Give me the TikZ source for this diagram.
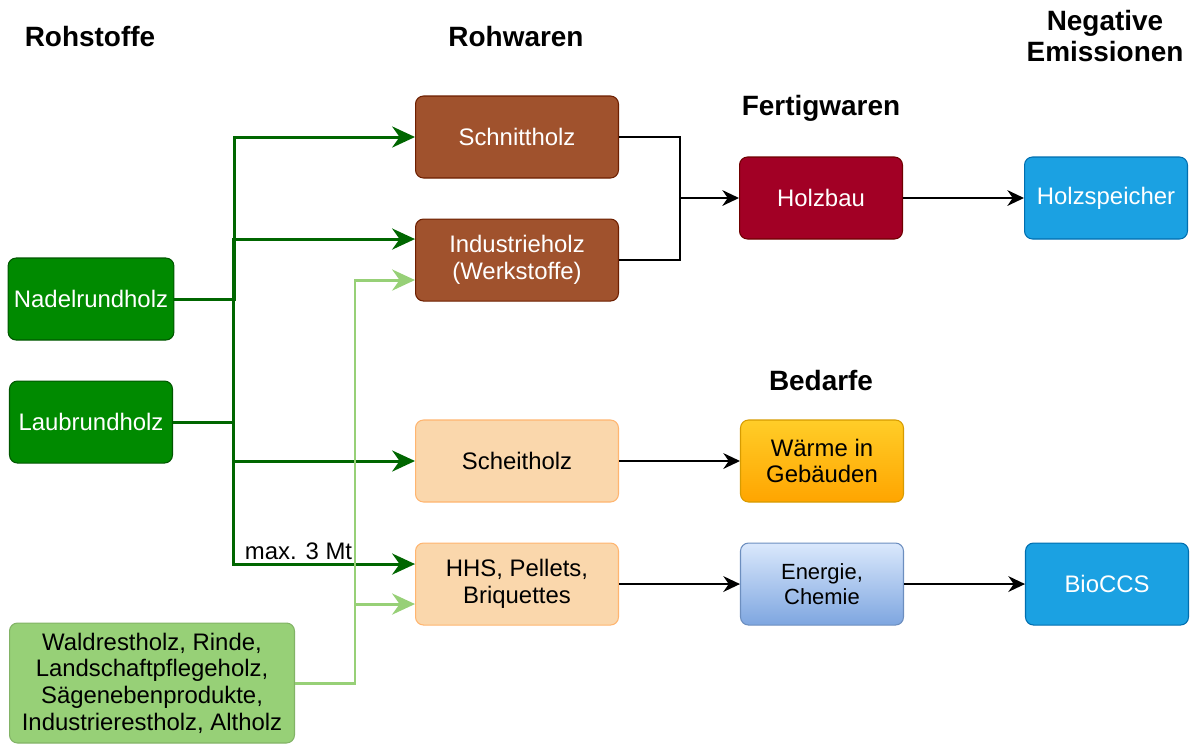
\documentclass[tikz,border=0pt]{standalone}
\usepackage{fontspec}
\setmainfont{Liberation Sans}
\usepackage{xcolor}
\usetikzlibrary{arrows.meta,positioning}

\definecolor{rundFill}{HTML}{008A00}
\definecolor{rundLine}{HTML}{005700}
\definecolor{restFill}{HTML}{97D077}
\definecolor{restLine}{HTML}{82B366}
\definecolor{wareFill}{HTML}{A0522D}
\definecolor{wareLine}{HTML}{6D1F00}
\definecolor{brennFill}{HTML}{FAD7AC}
\definecolor{brennLine}{HTML}{FFB570}
\definecolor{bauFill}{HTML}{A20025}
\definecolor{bauLine}{HTML}{6F0000}
\definecolor{speicherFill}{HTML}{1BA1E2}
\definecolor{speicherLine}{HTML}{006EAF}
\definecolor{waermeTop}{HTML}{FFCD28}
\definecolor{waermeBot}{HTML}{FFA500}
\definecolor{waermeLine}{HTML}{D79B00}
\definecolor{energieTop}{HTML}{DAE8FC}
\definecolor{energieBot}{HTML}{7EA6E0}
\definecolor{energieLine}{HTML}{6C8EBF}
\definecolor{flowDark}{HTML}{006600}

\begin{document}
\begin{tikzpicture}[x=0.02cm,y=-0.02cm,
    box/.style={draw,rounded corners=0.16cm,align=center,minimum width=3.26cm,minimum height=1.64cm,
      line width=0.6pt,font=\fontsize{13.6}{15.2}\selectfont},
    rund/.style={box,fill=rundFill,draw=rundLine,text=white},
    rest/.style={box,fill=restFill,draw=restLine,minimum width=5.7cm,minimum height=2.4cm},
    ware/.style={box,fill=wareFill,draw=wareLine,text=white,minimum width=4.06cm},
    brenn/.style={box,fill=brennFill,draw=brennLine,minimum width=4.06cm},
    header/.style={align=center,font=\bfseries\fontsize{15.9}{18}\selectfont},
    dkflow/.style={draw=flowDark,line width=1.7pt,-{Stealth[length=13pt,width=12pt]}},
    ltflow/.style={draw=restFill,line width=1.7pt,-{Stealth[length=13pt,width=12pt]}},
    flow/.style={draw=black,line width=0.85pt},
    >={Stealth[length=9.5pt,width=9pt]}
  ]
    \useasboundingbox (0,0) rectangle (1192,745);

    % Rohstoffe
    \node[rund] (nadel) at (91,299) {Nadelrundholz};
    \node[rund,below=0.8cm of nadel] (laub) {Laubrundholz};
    \node[rest] (wald) at (152,683) {Waldrestholz, Rinde,\\Landschaftpflegeholz,\\Sägenebenprodukte,\\Industrierestholz, Altholz};

    % Rohwaren
    \node[ware] (schnitt) at (517,137) {Schnittholz};
    \node[ware,below=0.8cm of schnitt] (indus) {Industrieholz\\(Werkstoffe)};
    \node[brenn] (scheit) at (517,461) {Scheitholz};
    \node[brenn,below=0.8cm of scheit] (hhs) {HHS, Pellets,\\Briquettes};

    % Fertigwaren / Bedarfe
    \node[box,fill=bauFill,draw=bauLine,text=white] (holzbau) at (821,198) {Holzbau};
    \node[box,top color=waermeTop,bottom color=waermeBot,draw=waermeLine,right=2.42cm of scheit] (waerme) {Wärme in\\Gebäuden};
    \node[box,top color=energieTop,bottom color=energieBot,draw=energieLine,
      font=\fontsize{12.5}{14}\selectfont,right=2.42cm of hhs] (energie) {Energie,\\Chemie};

    % Negative Emissionen
    \node[box,fill=speicherFill,draw=speicherLine,text=white,right=2.42cm of holzbau] (speicher) {Holzspeicher};
    \node[box,fill=speicherFill,draw=speicherLine,text=white,right=2.42cm of energie] (bioccs) {BioCCS};

    % headings
    \node[header] (hRohstoffe) at (90,37) {Rohstoffe};
    \node[header] (hRohwaren) at (516,37) {Rohwaren};
    \node[header] (hFertig) at (821,108) {Fertigwaren};
    \node[header] (hNegativ) at (1105,36) {Negative\\Emissionen};
    \node[header] (hBedarfe) at (821,381) {Bedarfe};

    % Rundholz
    \draw[dkflow] (nadel.east) -- ++(60,0) |- (schnitt.west);
    \draw[dkflow] (laub.east) -- ++(60,0) |- ([yshift=0.42cm]indus.west);
    \draw[dkflow] (laub.east) -- ++(60,0) |- (scheit.west);
    \draw[dkflow] (laub.east) -- ++(60,0) |- node[pos=0.68,above,inner sep=1.5pt,font=\fontsize{13.6}{15}\selectfont]{max. 3 Mt} ([yshift=0.4cm]hhs.west);

    % Reststoffe
    \draw[ltflow] (wald.east) -- ++(60,0) |- ([yshift=-0.4cm]indus.west);
    \draw[ltflow] (wald.east) -- ++(60,0) |- ([yshift=-0.4cm]hhs.west);

    % Weiterverarbeitung
    \coordinate (join) at (680,198);
    \draw[flow] (schnitt.east) -| (join);
    \draw[flow] (indus.east) -| (join);
    \draw[flow,->] (join) -- (holzbau.west);
    \draw[flow,->] (holzbau) -- (speicher);
    \draw[flow,->] (scheit) -- (waerme);
    \draw[flow,->] (hhs) -- (energie);
    \draw[flow,->] (energie) -- (bioccs);
  \end{tikzpicture}
\end{document}
